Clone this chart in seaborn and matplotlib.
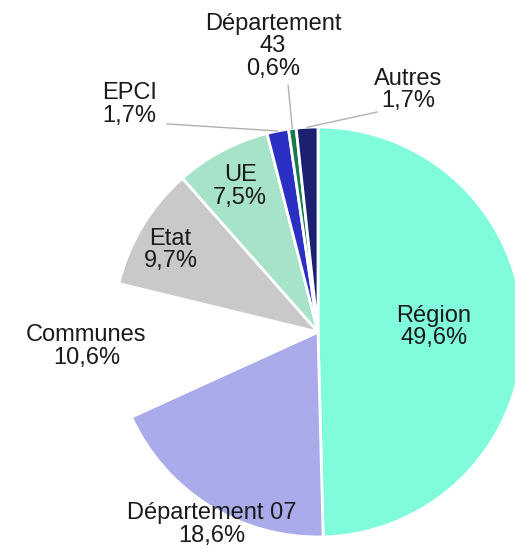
import numpy as np
import matplotlib
matplotlib.use("Agg")
import matplotlib.pyplot as plt
import seaborn as sns

# financement par source (%)
labels = ["Région", "Département 07", "Communes", "Etat", "UE", "EPCI", "Département\n43", "Autres"]
shares = [49.6, 18.6, 10.6, 9.7, 7.5, 1.7, 0.6, 1.7]
colors = ["#80fcdc", "#aaabeb", "#ffffff", "#c9c9c9", "#a6e3c9", "#2b2fc4", "#177a4e", "#1c2070"]

sns.set_theme(style="white")
plt.rcParams['font.family'] = ['Liberation Sans', 'DejaVu Sans']

W, H = 515, 550
cx, cy, r = 318, 332, 205
fig = plt.figure(figsize=(W / 100, H / 100), dpi=100)
ax = fig.add_axes([(cx - r) / W, (H - cy - r) / H, 2 * r / W, 2 * r / H])

wedges, _ = ax.pie(shares, colors=colors, startangle=90, counterclock=False,
                   wedgeprops=dict(edgecolor="white", linewidth=2), radius=1)
ax.set_xlim(-1, 1)
ax.set_ylim(-1, 1)
ax.set_axis_off()


def fmt(v):
    return f"{v:.1f}%".replace(".", ",")


# label positions (data units, centre of text block)
text_pos = {
    "Région": (0.566, 0.025),
    "Département 07": (-0.52, -0.94),
    "Communes": (-1.13, -0.07),
    "Etat": (-0.72, 0.40),
    "UE": (-0.38, 0.71),
    "EPCI": (-0.92, 1.11),
    "Département\n43": (-0.22, 1.395),
    "Autres": (0.44, 1.18),
}
leader_start = {
    "EPCI": (-0.737, 1.015),
    "Département\n43": (-0.146, 1.205),
    "Autres": (0.288, 1.073),
}

cum = np.cumsum([0] + shares[:-1])
for lab, s, c0 in zip(labels, shares, cum):
    tx, ty = text_pos[lab]
    ax.text(tx, ty, f"{lab}\n{fmt(s)}", ha="center", va="center", fontsize=17,
            color="#1a1a1a", linespacing=1.03, clip_on=False)
    if lab in leader_start:
        ang = np.deg2rad(90 - (c0 + s / 2) / 100 * 360)
        x0, y0 = leader_start[lab]
        ax.plot([x0, np.cos(ang)], [y0, np.sin(ang)], color="#b0b0b0", lw=1, clip_on=False)

fig.savefig("out.png", dpi=100)
